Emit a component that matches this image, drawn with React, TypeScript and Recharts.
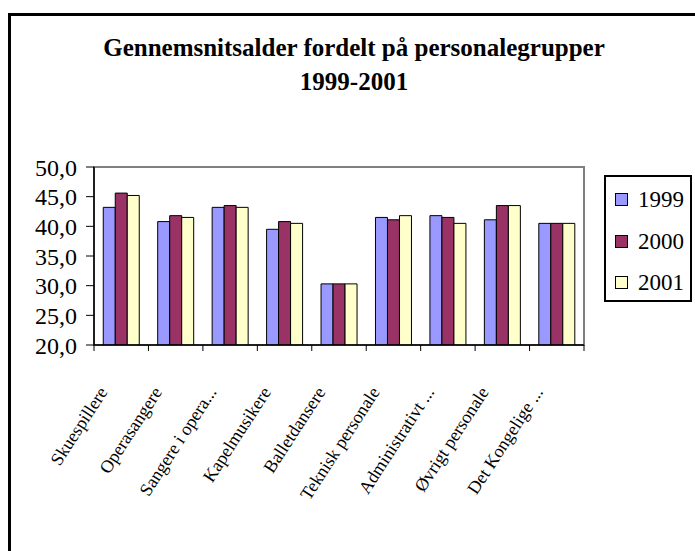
import { BarChart, Bar, XAxis, YAxis, ReferenceArea } from "recharts";

const categories = [
  "Skuespillere",
  "Operasangere",
  "Sangere i opera...",
  "Kapelmusikere",
  "Balletdansere",
  "Teknisk personale",
  "Administrativt ...",
  "Øvrigt personale",
  "Det Kongelige ...",
];
const age1999 = [43.2, 40.8, 43.2, 39.5, 30.3, 41.5, 41.8, 41.1, 40.5];
const age2000 = [45.6, 41.8, 43.5, 40.8, 30.3, 41.1, 41.5, 43.5, 40.5];
const age2001 = [45.2, 41.5, 43.2, 40.5, 30.3, 41.8, 40.5, 43.5, 40.5];
const yTicks = [20, 25, 30, 35, 40, 45, 50];

const seriesInfo = [
  { key: "y1999", name: "1999", color: "#9999FF" },
  { key: "y2000", name: "2000", color: "#993366" },
  { key: "y2001", name: "2001", color: "#FFFFCC" },
];

const data = categories.map((c, i) => ({
  cat: c,
  y1999: age1999[i],
  y2000: age2000[i],
  y2001: age2001[i],
}));

const SERIF = "Liberation Serif";
const W = 695;
const H = 551;
const M = { top: 167, right: 111, left: 14, bottom: 86 };
const YW = 80;
const PLOT_W = W - M.left - M.right - YW;
const BAND = PLOT_W / categories.length;

function CatTick({ x, y, payload, index }: any) {
  const ax = x - 13;
  const ay = y + 47;
  const left = x - BAND / 2;
  return (
    <g>
      <line x1={left} y1={y} x2={left} y2={y + 6} stroke="#000" />
      {index === categories.length - 1 && (
        <line x1={x + BAND / 2} y1={y} x2={x + BAND / 2} y2={y + 6} stroke="#000" />
      )}
      <text
        x={ax}
        y={ay}
        textAnchor="end"
        transform={`rotate(-57, ${ax}, ${ay})`}
        fontFamily={SERIF}
        fontSize={18}
        fill="#000"
      >
        {payload.value}
      </text>
    </g>
  );
}

function LegendBox() {
  return (
    <div style={{
      position: "absolute",
      left: 604,
      top: 175,
      boxSizing: "border-box",
      width: 88,
      height: 127,
      border: "2px solid #000",
      padding: "2px 0 0 9px",
      background: "#fff",
    }}>
      {seriesInfo.map((s) => (
        <div key={s.key} style={{ height: 41.5, display: "flex", alignItems: "center" }}>
          <span style={{
            display: "inline-block",
            boxSizing: "border-box",
            width: 13,
            height: 13,
            background: s.color,
            border: "1px solid #000",
            marginRight: 10,
          }} />
          <span style={{ fontFamily: SERIF, fontSize: 23, color: "#000", lineHeight: "23px" }}>{s.name}</span>
        </div>
      ))}
    </div>
  );
}

export default function App() {
  return (
    <div style={{ position: "fixed", left: 0, top: 0, width: W, height: H, overflow: "hidden", background: "#fff" }}>
      <div style={{
        position: "absolute",
        left: 8,
        top: 13,
        width: 720,
        height: 600,
        border: "3px solid #000",
      }} />
      <div style={{
        position: "absolute",
        left: 0,
        top: 30.6,
        width: 708,
        textAlign: "center",
        fontFamily: SERIF,
        fontWeight: "bold",
        fontSize: 25,
        lineHeight: "34px",
        color: "#000",
      }}>
        <div>Gennemsnitsalder fordelt på personalegrupper</div>
        <div>1999-2001</div>
      </div>
      <div style={{ position: "absolute", left: 0, top: 0 }}>
        <BarChart width={W} height={H} data={data} margin={M} barCategoryGap="17%" barGap={0}>
          <ReferenceArea y1={20} y2={50} fill="none" stroke="#808080" strokeWidth={2} />
          <XAxis
            dataKey="cat"
            interval={0}
            height={120}
            tickLine={false}
            tickSize={0}
            tickMargin={0}
            axisLine={{ stroke: "#000", strokeWidth: 1.5 }}
            tick={<CatTick />}
          />
          <YAxis
            width={YW}
            domain={[20, 50]}
            ticks={yTicks}
            interval={0}
            allowDataOverflow
            tickSize={8}
            tickMargin={9}
            tickLine={{ stroke: "#000" }}
            axisLine={{ stroke: "#000", strokeWidth: 1.5 }}
            tickFormatter={(v: number) => v.toFixed(1).replace(".", ",")}
            tick={{ fontFamily: SERIF, fontSize: 24, fill: "#000" }}
          />
          {seriesInfo.map((s) => (
            <Bar
              key={s.key}
              dataKey={s.key}
              name={s.name}
              fill={s.color}
              stroke="#000"
              strokeWidth={1}
              isAnimationActive={false}
            />
          ))}
        </BarChart>
      </div>
      <LegendBox />
    </div>
  );
}
